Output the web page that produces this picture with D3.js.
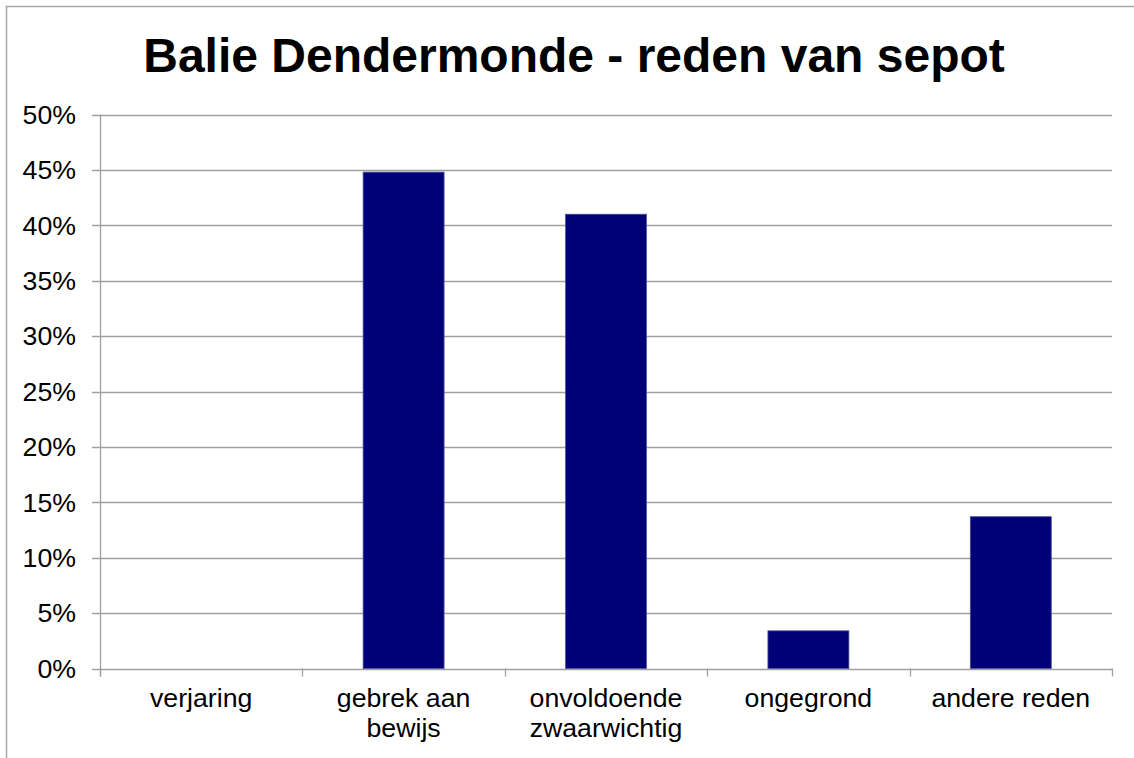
<!DOCTYPE html>
<html>
<head>
<meta charset="utf-8">
<script src="https://cdn.jsdelivr.net/npm/d3@7"></script>
<style>
  body { margin: 0; background: #fff; overflow: hidden; }
  svg { display: block; }
  text { font-family: "Liberation Sans", Arial, sans-serif; }
</style>
</head>
<body>
<svg width="1134" height="758"></svg>
<script>
let categories = [["verjaring"], ["gebrek aan", "bewijs"], ["onvoldoende", "zwaarwichtig"], ["ongegrond"], ["andere reden"]];
let values = [0, 44.8, 41.0, 3.4, 13.7];
let yTicks = [0, 5, 10, 15, 20, 25, 30, 35, 40, 45, 50];

let width = 1134;
let height = 758;
let margin = {left: 100, right: 22, top: 114.5, bottom: 89.5};

let svg = d3.select("svg");

// chart border (cropped on the right and bottom)
svg.append("rect")
    .attr("x", 6.5).attr("y", 6.5)
    .attr("width", 1140).attr("height", 770)
    .attr("fill", "none")
    .attr("stroke", "#a6a6a6")
    .attr("stroke-width", 1.5);

svg.append("text")
    .attr("x", 574)
    .attr("y", 72)
    .attr("text-anchor", "middle")
    .style("font-size", "48px")
    .style("font-weight", "bold")
    .text("Balie Dendermonde - reden van sepot");

let x = d3.scaleBand()
    .domain(d3.range(categories.length))
    .range([margin.left, width - margin.right])
    .padding(0);

let y = d3.scaleLinear()
    .domain([0, 50])
    .range([height - margin.bottom, margin.top]);

// gridlines
svg.append("g")
    .selectAll("line")
    .data(yTicks)
    .enter()
    .append("line")
    .attr("x1", margin.left - 8)
    .attr("x2", width - margin.right)
    .attr("y1", d => Math.round(y(d)) + 0.5)
    .attr("y2", d => Math.round(y(d)) + 0.5)
    .attr("stroke", "#a0a0a0")
    .attr("stroke-width", 1.3);

// y labels
svg.append("g")
    .selectAll("text")
    .data(yTicks)
    .enter()
    .append("text")
    .attr("x", 76)
    .attr("y", d => y(d))
    .attr("dy", "0.35em")
    .attr("text-anchor", "end")
    .style("font-size", "26.7px")
    .text(d => d + "%");

// y axis line
svg.append("line")
    .attr("x1", margin.left + 0.5).attr("x2", margin.left + 0.5)
    .attr("y1", y(50)).attr("y2", y(0) + 8)
    .attr("stroke", "#a0a0a0")
    .attr("stroke-width", 1.3);

// category ticks
let step = x.step();
svg.append("g")
    .selectAll("line")
    .data(d3.range(categories.length + 1))
    .enter()
    .append("line")
    .attr("x1", i => Math.round(margin.left + i * step) + 0.5)
    .attr("x2", i => Math.round(margin.left + i * step) + 0.5)
    .attr("y1", y(0))
    .attr("y2", y(0) + 8)
    .attr("stroke", "#a0a0a0")
    .attr("stroke-width", 1.3);

// bars (skip zero values)
svg.append("g")
    .selectAll("rect")
    .data(values.map((v, i) => ({v, i})).filter(d => d.v > 0))
    .enter()
    .append("rect")
    .attr("x", d => x(d.i) + step * 0.3)
    .attr("width", step * 0.4)
    .attr("y", d => y(d.v))
    .attr("height", d => y(0) - y(d.v))
    .attr("fill", "#000077")
    .attr("stroke", "#5050a0")
    .attr("stroke-width", 0.8);

// x labels
let labels = svg.append("g")
    .selectAll("text")
    .data(categories)
    .enter()
    .append("text")
    .attr("text-anchor", "middle")
    .style("font-size", "26.7px")
    .attr("transform", (d, i) => `translate(${x(i) + step / 2},707)`);

labels.selectAll("tspan")
    .data(d => d)
    .enter()
    .append("tspan")
    .attr("x", 0)
    .attr("y", (d, i) => i * 30)
    .text(d => d);
</script>
</body>
</html>
